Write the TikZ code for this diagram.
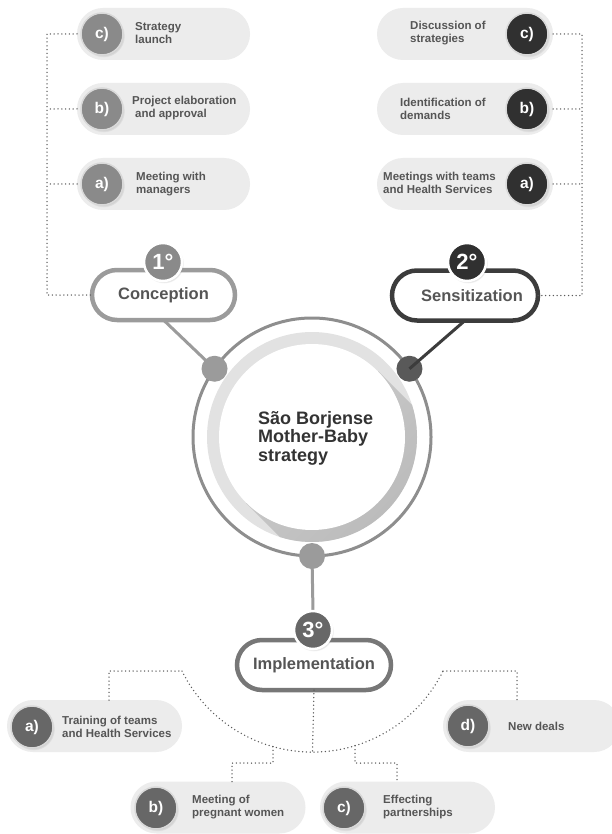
\documentclass[tikz,border=0pt]{standalone}
\usepackage{fontspec}
\setmainfont{Liberation Sans}
\usetikzlibrary{shapes.misc,shadows,calc}
\definecolor{pillgray}{HTML}{ECECEC}
\definecolor{txtgray}{HTML}{555555}
\definecolor{cgrayL}{HTML}{8A8A8A}
\definecolor{cdark}{HTML}{303030}
\definecolor{cmid}{HTML}{676767}
\definecolor{dotgray}{HTML}{5A5A5A}
\definecolor{ringgray}{HTML}{8E8E8E}
\definecolor{lightring}{HTML}{E2E2E2}
\definecolor{shadnear}{HTML}{CACACA}
\definecolor{shadfar}{HTML}{ACACAC}
\definecolor{concgray}{HTML}{9B9B9B}
\definecolor{sensdark}{HTML}{3C3C3C}
\definecolor{implgray}{HTML}{777777}
\begin{document}
\begin{tikzpicture}[x=1pt,y=-1pt,
  subpill/.style={rounded rectangle, fill=pillgray, minimum width=#1, minimum height=52pt, inner sep=0pt, outer sep=0pt},
  letter/.style={circle, fill=#1, draw=white!85!black, line width=1.5pt, minimum size=42pt, inner sep=0pt, text=white,
    font=\bfseries\fontsize{15.5}{15.5}\selectfont,
    circular drop shadow={shadow xshift=1.5pt, shadow yshift=-2pt, opacity=0.3, shadow scale=1.02}},
  itemtext/.style={anchor=west, align=left, text=txtgray, font=\bfseries\fontsize{11.5}{12.5}\selectfont, inner sep=0pt},
  mainpill/.style={rounded rectangle, draw=#1, line width=4.5pt, fill=white, minimum height=50pt, inner sep=0pt, outer sep=0pt,
    text=txtgray, font=\bfseries\fontsize{16.5}{18}\selectfont},
  badge/.style={circle, fill=#1, draw=white, line width=2.5pt, minimum size=38pt, inner sep=0pt, text=white,
    font=\bfseries\fontsize{22}{22}\selectfont,
    circular drop shadow={shadow xshift=1pt, shadow yshift=-1.5pt, opacity=0.3, shadow scale=1.05}},
  ringdot/.style={circle, fill=#1, minimum size=26pt, inner sep=0pt},
  dots/.style={draw=dotgray, line width=1.5pt, line cap=round, dash pattern=on 0pt off 3.8pt},
  stem/.style={line width=3pt, draw=#1}]

\fill[white] (0,0) rectangle (611,834);
\useasboundingbox (0,0) rectangle (611,834);

% ---------- central hub ----------
\node[circle, draw=ringgray, line width=3pt, minimum size=238pt, inner sep=0pt, outer sep=0pt] (hub) at (312,437) {};
\fill[lightring] (hub.center) circle[radius=105];
\begin{scope}
  \clip (hub.center) circle[radius=105];
  \shade[top color=shadnear, bottom color=shadfar, shading angle=45]
    ($(hub.center)+(66,-66)$) -- ++(160,160) -- ($(hub.center)+(-66,66)+(160,160)$) -- ($(hub.center)+(-66,66)$) -- cycle;
\end{scope}
\fill[white] (hub.center) circle[radius=93];
\node[anchor=west, align=left, text=black!80, font=\bfseries\fontsize{18}{18.5}\selectfont, inner sep=0pt] (hubtext) at (258,438)
  {São Borjense\\Mother-Baby\\strategy};

\node[ringdot=concgray] (dl) at (hub.145) {};
\node[ringdot=sensdark!85] (dr) at (hub.35) {};
\node[ringdot=concgray] (db) at (hub.south) {};

% ---------- main stage pills ----------
\node[mainpill=concgray, minimum width=143pt] (conc) at (163.5,295) {Conception};
\node[mainpill=sensdark, minimum width=146pt] (sens) at (465,295.5) {\hspace*{14pt}Sensitization};
\node[mainpill=implgray, minimum width=154pt] (impl) at (314,665) {Implementation};

\draw[stem=concgray] (conc.south) -- (dl.center);
\draw[stem=sensdark] (sens.south) -- (dr.center);
\draw[stem=concgray] (db.center) -- (313,612);

\node[badge=cgrayL] (b1) at (163,262) {1°};
\node[badge=cdark] (b2) at (467,262) {2°};
\node[badge=cmid] (b3) at (313,630) {3°};

% ---------- top-left items ----------
\node[subpill=173pt] (lc) at (163.5,34) {};
\node[subpill=173pt] (lb) at (163.5,109) {};
\node[subpill=173pt] (la) at (163.5,184) {};
\node[letter=cgrayL] (lcc) at (102,34) {c)};
\node[letter=cgrayL] (lbc) at (102,109) {b)};
\node[letter=cgrayL] (lac) at (102,184) {a)};
\node[itemtext] (lct) at (135,33) {Strategy\\launch};
\node[itemtext] (lbt) at (132,108) {Project elaboration\\\hspace*{3pt}and approval};
\node[itemtext] (lat) at (136,184) {Meeting with\\managers};

% ---------- top-right items ----------
\node[subpill=176pt] (rc) at (465,34) {};
\node[subpill=176pt] (rb) at (465,109) {};
\node[subpill=176pt] (ra) at (465,184) {};
\node[letter=cdark] (rcc) at (527,34) {c)};
\node[letter=cdark] (rbc) at (527,109) {b)};
\node[letter=cdark] (rac) at (527,184) {a)};
\node[itemtext] (rct) at (410,33) {Discussion of\\strategies};
\node[itemtext] (rbt) at (400,109) {Identification of\\demands};
\node[itemtext] (rat) at (383,183) {Meetings with teams\\and Health Services};

% ---------- bottom items ----------
\node[subpill=175pt] (ba) at (94.5,726) {};
\node[subpill=175pt] (bb) at (218,807.5) {};
\node[subpill=175pt] (bc) at (407.5,807.5) {};
\node[subpill=177pt] (bd) at (531.5,726) {};
\node[letter=cmid] (bac) at (32,727) {a)};
\node[letter=cmid] (bbc) at (156,808) {b)};
\node[letter=cmid] (bcc) at (344,808) {c)};
\node[letter=cmid] (bdc) at (468,726) {d)};
\node[itemtext] (bat) at (62,727) {Training of teams\\and Health Services};
\node[itemtext] (bbt) at (192,807) {Meeting of\\pregnant women};
\node[itemtext] (bct) at (383,807) {Effecting\\partnerships};
\node[itemtext] (bdt) at (508,726) {New deals};

% ---------- dotted connectors ----------
\coordinate (L) at (47,0);
\coordinate (R) at (582,0);
\draw[dots] (lc.west) -- (lc.west -| L) |- (conc.west);
\draw[dots] (lb.west) -- (lb.west -| L);
\draw[dots] (la.west) -- (la.west -| L);
\draw[dots] (rc.east) -- (rc.east -| R) |- (sens.east);
\draw[dots] (rb.east) -- (rb.east -| R);
\draw[dots] (ra.east) -- (ra.east -| R);

\coordinate (B) at (312.5,752);
\coordinate (arcL) at (182,671);
\coordinate (arcR) at (443,671);
\coordinate (aL) at (109,0);
\coordinate (dR) at (517,0);
\coordinate (ab) at (273,746.5);
\coordinate (ac) at (355,745.7);
\coordinate (bbtop) at (232,782);
\coordinate (bctop) at (397,782);

\draw[dots] (arcL) arc[start angle=153.7, end angle=26.3, radius=145.6];
\draw[dots] (impl.south) -- (B);
\draw[dots] (ba.north -| aL) |- (arcL);
\draw[dots] (arcR) -| (bd.north -| dR);
\draw[dots] (ab) -- ++(0,16.5) -| (bbtop);
\draw[dots] (ac) -- ++(0,17.3) -| (bctop);
\end{tikzpicture}
\end{document}
